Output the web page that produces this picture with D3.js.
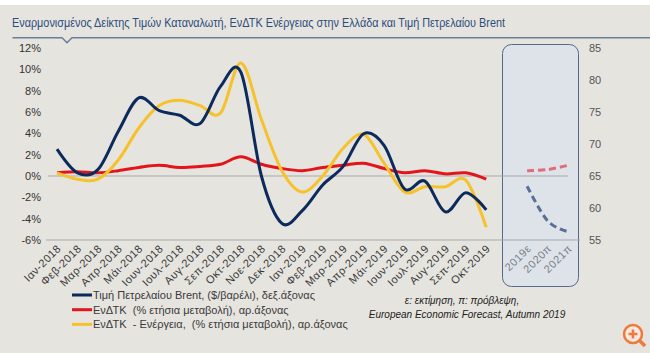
<!DOCTYPE html>
<html>
<head>
<meta charset="utf-8">
<script src="https://cdn.jsdelivr.net/npm/d3@7"></script>
<style>
  body { margin: 0; background: #fff; }
  svg { display: block; font-family: "Liberation Sans", Arial, sans-serif; }
</style>
</head>
<body>
<div id="chart"></div>
<script>
// months on the x axis
const months = ["Ιαν-2018", "Φεβ-2018", "Μαρ-2018", "Απρ-2018", "Μάι-2018", "Ιουν-2018", "Ιουλ-2018", "Αυγ-2018",
    "Σεπ-2018", "Οκτ-2018", "Νοε-2018", "Δεκ-2018", "Ιαν-2019", "Φεβ-2019", "Μαρ-2019", "Απρ-2019", "Μάι-2019",
    "Ιουν-2019", "Ιουλ-2019", "Αυγ-2019", "Σεπ-2019", "Οκτ-2019"];
const forecastYears = ["2019ε", "2020π", "2021π"];

// Brent ($/barrel, right axis)
const brent = [69.2, 65.5, 66.0, 72.0, 77.2, 75.2, 74.5, 73.2, 79.0, 81.2, 65.0, 57.6,
    59.6, 63.6, 66.5, 71.6, 69.8, 63.0, 64.2, 59.4, 62.4, 59.7];
// HICP (% y/y, left axis)
const hicp = [0.3, 0.4, 0.3, 0.5, 0.8, 1.0, 0.8, 0.9, 1.1, 1.8, 1.1, 0.7,
    0.5, 0.8, 1.0, 1.2, 0.7, 0.3, 0.5, 0.2, 0.3, -0.3];
// HICP energy (% y/y, left axis)
const hicpEnergy = [0.3, -0.3, -0.3, 1.5, 4.5, 6.6, 7.1, 6.6, 5.9, 10.6, 5.3, 0.5,
    -1.5, 0.0, 2.6, 3.9, 1.2, -1.5, -1.0, -1.0, -0.4, -4.8];
// forecasts
const brentForecast = [63.4, 58.0, 56.3];
const hicpForecast = [0.5, 0.6, 1.0];

const leftTicks = [-6, -4, -2, 0, 2, 4, 6, 8, 10, 12];
const rightTicks = [55, 60, 65, 70, 75, 80, 85];

const legendItems = [
    { label: "Τιμή Πετρελαίου Brent, ($/βαρέλι), δεξ.άξονας", color: "#0c2a5c" },
    { label: "ΕνΔΤΚ  (% ετήσια μεταβολή), αρ.άξονας", color: "#e3141c" },
    { label: "ΕνΔΤΚ  - Ενέργεια,  (% ετήσια μεταβολή), αρ.άξονας", color: "#f6c22c" }
];

const width = 650, height = 353;
const svg = d3.select("#chart").append("svg")
    .attr("width", width)
    .attr("height", height);

svg.append("rect").attr("x", 0).attr("y", 5).attr("width", width).attr("height", height - 5)
    .attr("fill", "#e6e4df");

// title
svg.append("text")
    .attr("x", 12).attr("y", 26.5)
    .attr("fill", "#2d4d7c")
    .attr("font-size", 13.5)
    .attr("textLength", 493)
    .attr("lengthAdjust", "spacingAndGlyphs")
    .text("Εναρμονισμένος Δείκτης Τιμών Καταναλωτή, ΕνΔΤΚ Ενέργειας στην Ελλάδα και Τιμή Πετρελαίου Brent");

svg.append("path")
    .attr("d", "M12.5,37.7 L62,37.7 L67,42.7 L72,37.7 L650,37.7")
    .attr("fill", "none")
    .attr("stroke", "#6b7d98")
    .attr("stroke-width", 1.5);

// scales
const cats = [...months, " ", ...forecastYears];
const x = d3.scalePoint().domain(cats).range([57, 568]);
const yL = d3.scaleLinear().domain([-6, 12]).range([240, 48]);
const yR = d3.scaleLinear().domain([55, 85]).range([240, 48]);

// forecast box
svg.append("rect")
    .attr("x", 502.5).attr("y", 44.5)
    .attr("width", 76).attr("height", 242)
    .attr("rx", 9)
    .attr("fill", "#dee3ea")
    .attr("stroke", "#56698a")
    .attr("stroke-width", 1);

// grid lines
svg.append("line")
    .attr("x1", 48).attr("x2", 568)
    .attr("y1", yL(0)).attr("y2", yL(0))
    .attr("stroke", "#a9a9a9").attr("stroke-width", 1);
svg.append("line")
    .attr("x1", 46).attr("x2", 580)
    .attr("y1", yL(-6)).attr("y2", yL(-6))
    .attr("stroke", "#a9a9a9").attr("stroke-width", 1);

// axes
const leftAxis = svg.append("g")
    .attr("transform", "translate(41,0)")
    .call(d3.axisLeft(yL).tickValues(leftTicks).tickFormat(d => d + "%").tickSize(0).tickPadding(0));
const rightAxis = svg.append("g")
    .attr("transform", "translate(589,0)")
    .call(d3.axisRight(yR).tickValues(rightTicks).tickSize(0).tickPadding(0));
[leftAxis, rightAxis].forEach(a => {
    a.select(".domain").remove();
    a.selectAll("text").attr("font-size", 11).attr("font-family", "Liberation Sans, Arial, sans-serif");
});
leftAxis.selectAll("text").attr("fill", "#333");
rightAxis.selectAll("text").attr("fill", "#555");

// x labels
svg.append("g").selectAll("text")
    .data(cats.filter(c => c !== " "))
    .join("text")
    .attr("transform", d => `translate(${x(d) + 2},${246.5}) rotate(-45)`)
    .attr("text-anchor", "end")
    .attr("dy", "0.35em")
    .attr("font-size", 11)
    .attr("letter-spacing", 0.5)
    .attr("fill", d => forecastYears.includes(d) ? "#7a7f88" : "#3a3a3a")
    .text(d => d);

// lines
const smooth = d3.curveCatmullRom.alpha(0);
const lineL = d3.line().x(d => x(d.cat)).y(d => yL(d.v)).curve(smooth);
const lineR = d3.line().x(d => x(d.cat)).y(d => yR(d.v)).curve(smooth);
const toPts = (arr, keys) => arr.map((v, i) => ({ cat: keys[i], v }));

svg.append("path").attr("d", lineL(toPts(hicp, months)))
    .attr("fill", "none").attr("stroke", "#e3141c").attr("stroke-width", 3);
svg.append("path").attr("d", lineL(toPts(hicpEnergy, months)))
    .attr("fill", "none").attr("stroke", "#f6c22c").attr("stroke-width", 3);
svg.append("path").attr("d", lineR(toPts(brent, months)))
    .attr("fill", "none").attr("stroke", "#0c2a5c").attr("stroke-width", 3);

svg.append("path").attr("d", lineL(toPts(hicpForecast, forecastYears)))
    .attr("fill", "none").attr("stroke", "#e36a78").attr("stroke-width", 3)
    .attr("stroke-dasharray", "7,4");
svg.append("path").attr("d", lineR(toPts(brentForecast, forecastYears)))
    .attr("fill", "none").attr("stroke", "#5a6f95").attr("stroke-width", 3)
    .attr("stroke-dasharray", "7,4");

// legend
const legend = svg.append("g").selectAll("g")
    .data(legendItems)
    .join("g")
    .attr("transform", (d, i) => `translate(72,${295 + i * 14.7})`);
legend.append("line")
    .attr("x1", 0).attr("x2", 20)
    .attr("stroke", d => d.color).attr("stroke-width", 3);
legend.append("text")
    .attr("x", 21).attr("dy", "0.35em")
    .attr("font-size", 11)
    .attr("fill", "#3a3a3a")
    .style("white-space", "pre")
    .text(d => d.label);

// note
const note = svg.append("text")
    .attr("text-anchor", "middle")
    .attr("font-size", 10)
    .attr("font-style", "italic")
    .attr("fill", "#222");
note.append("tspan").attr("x", 462).attr("y", 304).text("ε: εκτίμηση, π: πρόβλεψη,");
note.append("tspan").attr("x", 467).attr("y", 318).text("European Economic Forecast, Autumn 2019");

// zoom icon (page overlay)
const icon = svg.append("g").attr("transform", "translate(633,334)");
icon.append("circle").attr("r", 9).attr("fill", "#fbe9df").attr("stroke", "#ec7a3c").attr("stroke-width", 2.5);
icon.append("path").attr("d", "M-4.5,0 H4.5 M0,-4.5 V4.5").attr("stroke", "#ec7a3c").attr("stroke-width", 2.5);
icon.append("path").attr("d", "M6.5,6.5 L12,12").attr("stroke", "#ec7a3c").attr("stroke-width", 3.5);
</script>
</body>
</html>
